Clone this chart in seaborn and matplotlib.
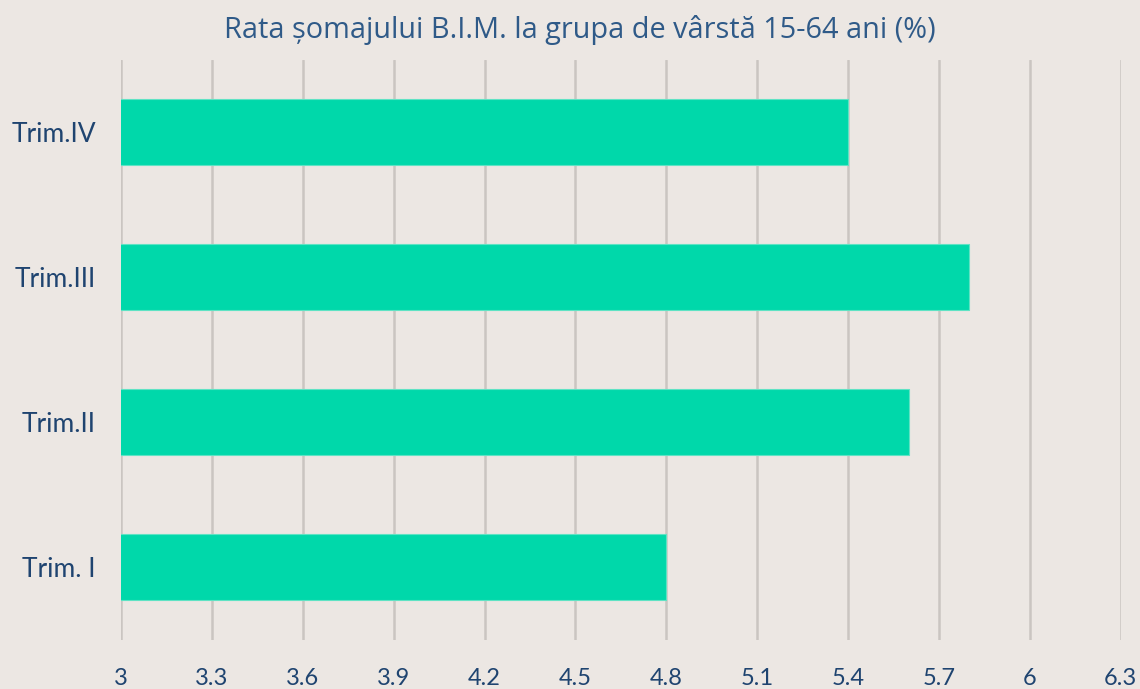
import seaborn as sns
import matplotlib.pyplot as plt
import pandas as pd

# data (top to bottom as shown)
quarters = ["Trim.IV", "Trim.III", "Trim.II", "Trim. I"]
rates = [5.4, 5.8, 5.6, 4.8]
xticks = [3, 3.3, 3.6, 3.9, 4.2, 4.5, 4.8, 5.1, 5.4, 5.7, 6, 6.3]
xtick_labels = ["3", "3.3", "3.6", "3.9", "4.2", "4.5", "4.8", "5.1", "5.4", "5.7", "6", "6.3"]

bg = "#ECE7E3"
bar_color = "#00D8AA"
text_color = "#1F4470"

df = pd.DataFrame({"trim": quarters, "rata": rates})

sns.set_style("white")
plt.rcParams["font.family"] = ["Lato", "DejaVu Sans"]

fig = plt.figure(figsize=(11.4, 6.89), dpi=100, facecolor=bg)
ax = fig.add_axes([0.1061, 0.0711, 0.877, 0.842])
ax.set_facecolor(bg)

sns.barplot(data=df, x="rata", y="trim", order=quarters, color=bar_color,
            saturation=1, width=0.455, orient="h", ax=ax,
            edgecolor="#5FE3C4", linewidth=0.8)

ax.set_xlim(3, 6.3)
ax.set_ylim(3.5, -0.5)
ax.set_xticks(xticks)
ax.set_xticklabels(xtick_labels)

ax.grid(axis="x", color="#CAC5C1", linewidth=1.8)
ax.grid(axis="y", visible=False)
ax.set_axisbelow(True)
for s in ax.spines.values():
    s.set_visible(False)

ax.tick_params(axis="x", length=0, pad=20, labelsize=17, labelcolor=text_color)
ax.tick_params(axis="y", length=0, pad=18, labelsize=19, labelcolor=text_color)
ax.set_xlabel("")
ax.set_ylabel("")

fig.text(0.509, 0.956, "Rata șomajului B.I.M. la grupa de vârstă 15-64 ani (%)",
         ha="center", va="center", fontsize=20.8, color="#2F5A88",
         family=["Open Sans", "DejaVu Sans"])

plt.savefig("out.png", dpi=100, facecolor=bg)
